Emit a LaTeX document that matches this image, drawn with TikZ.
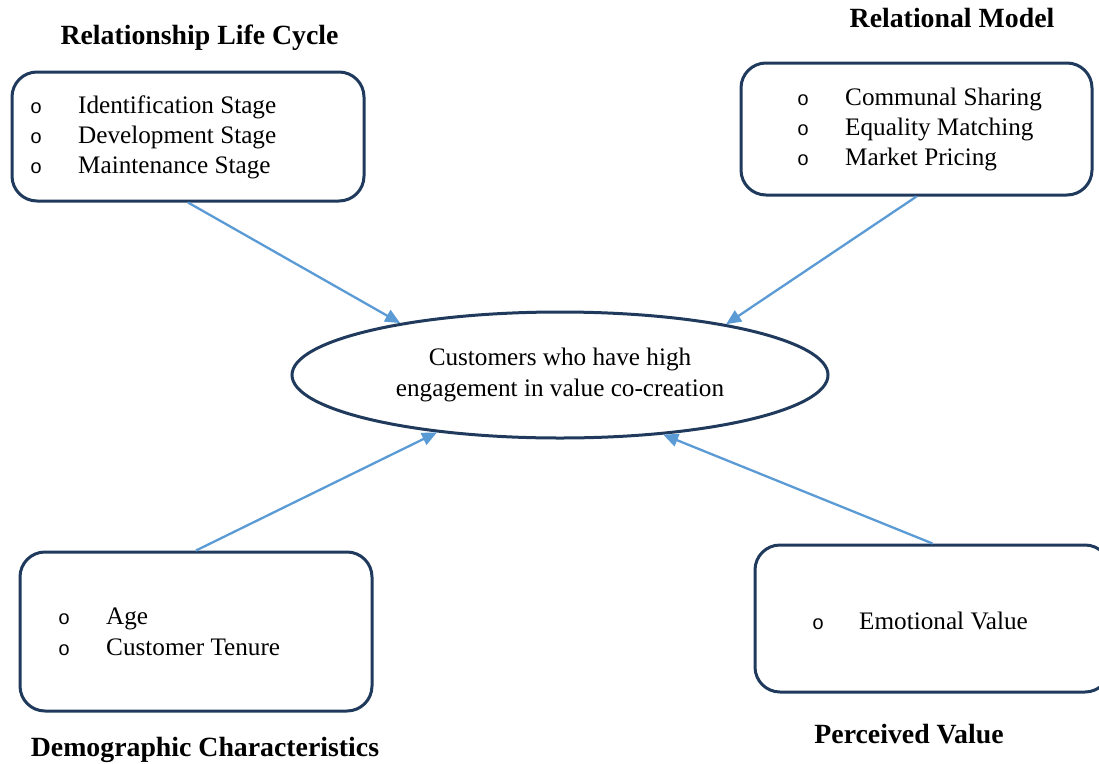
\documentclass[tikz,border=0pt]{standalone}
\usepackage{fontspec}
\setmainfont{Liberation Serif}
\newfontfamily\bulletfont{Liberation Mono}
\usetikzlibrary{shapes.geometric,arrows.meta}
\definecolor{boxline}{HTML}{1F3A5C}
\definecolor{arrowblue}{HTML}{5B9BD5}
\tikzset{
  panel/.style={draw=boxline, line width=3pt, rounded corners=25pt, inner sep=0pt},
  hub/.style={ellipse, draw=boxline, line width=3pt, inner sep=0pt,
    minimum width=536pt, minimum height=126pt, align=center,
    font=\fontsize{25.2}{31}\selectfont},
  heading/.style={font=\fontsize{27.8}{32}\selectfont\bfseries, anchor=base, inner sep=0pt},
  entry/.style={font=\fontsize{25.2}{30}\selectfont, anchor=base west, inner sep=0pt},
  dot/.style={font=\bulletfont\fontsize{20}{24}\selectfont, anchor=base west, inner sep=0pt},
  link/.style={draw=arrowblue, line width=2.3pt, -{Triangle[length=15pt,width=13pt]}},
}
\begin{document}
\begin{tikzpicture}[x=1pt,y=-1pt]
\useasboundingbox (0,0) rectangle (1099,763);

% central concept
\node[hub] (hub) at (560,375) {Customers who have high\\engagement in value co-creation};

% four framing panels
\node[panel, minimum width=352pt, minimum height=129pt] (p1) at (188,136.5) {};
\node[panel, minimum width=351pt, minimum height=132pt] (p2) at (916.5,129) {};
\node[panel, minimum width=352pt, minimum height=159pt] (p3) at (196,631.5) {};
\node[panel, minimum width=355pt, minimum height=147pt] (p4) at (932.5,618.5) {};

% headings
\node[heading] (h1) at (199.5,44) {Relationship Life Cycle};
\node[heading] (h2) at (952,27) {Relational Model};
\node[heading] (h3) at (205,756) {Demographic Characteristics};
\node[heading] (h4) at (909,743) {Perceived Value};

% relationship life cycle items
\node[dot] (d11) at (30,113) {o};
\node[dot] (d12) at (30,143) {o};
\node[dot] (d13) at (30,173) {o};
\node[entry] (e11) at (78,113) {Identification Stage};
\node[entry] (e12) at (78,143) {Development Stage};
\node[entry] (e13) at (78,173) {Maintenance Stage};

% relational model items
\node[dot] (d21) at (797,105) {o};
\node[dot] (d22) at (797,135) {o};
\node[dot] (d23) at (797,165) {o};
\node[entry] (e21) at (845,105) {Communal Sharing};
\node[entry] (e22) at (845,135) {Equality Matching};
\node[entry] (e23) at (845,165) {Market Pricing};

% demographic items
\node[dot] (d31) at (58,624) {o};
\node[dot] (d32) at (58,655) {o};
\node[entry] (e31) at (106,624) {Age};
\node[entry] (e32) at (106,655) {Customer Tenure};

% perceived value item
\node[dot] (d41) at (812,629) {o};
\node[entry] (e41) at (859,629) {Emotional Value};

% influences on the central concept
\draw[link] (p1.south) -- (hub.162.6);
\draw[link] (p2.south) -- (hub.17.6);
\draw[link] (p3.north) -- (hub.205.5);
\draw[link] (p4.north) -- (hub.330);
\end{tikzpicture}
\end{document}
